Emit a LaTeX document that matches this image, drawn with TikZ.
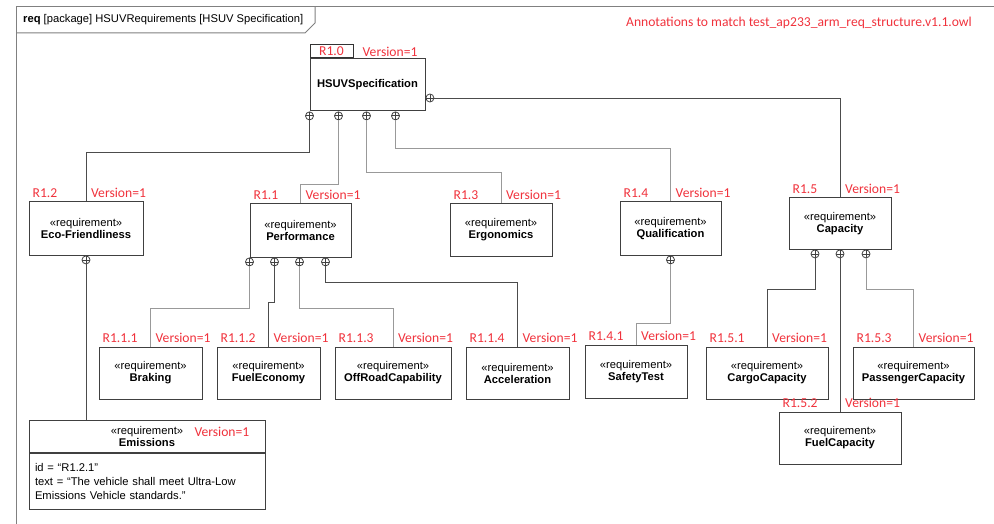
\documentclass[tikz,border=0pt]{standalone}
\usepackage{fontspec}
\setmainfont{Liberation Sans}
\newfontfamily\annotfont{Carlito}
\usetikzlibrary{positioning}
\definecolor{annotred}{RGB}{240,50,60}
\newcommand*{\stereo}{«requirement»}
% id and version tags above a requirement box
\newcommand*{\tags}[2]{%
  \node [tag_label, anchor=south west] (#1_id) at ([xshift=3pt, yshift=3pt]#1.north west) {#2};
  \node [tag_label, anchor=south west] (#1_ver) at ([xshift=4pt, yshift=3pt]#1.north) {Version=1};}

\begin{document}
\begin{tikzpicture}[x=1pt, y=-1pt,
    font=\fontsize{11.2}{12}\selectfont,
    req_box/.style ={rectangle, draw=black!75, line width=1pt, fill=white,
      align=center, minimum height=52pt, inner sep=2pt},
    tag_label/.style ={font=\annotfont\fontsize{13.6}{14}\selectfont, text=annotred, inner sep=1pt},
    plus_port/.style ={circle, draw=black!75, line width=0.8pt, fill=white, inner sep=0pt,
      minimum size=8pt, path picture={\draw [black!75, line width=0.8pt]
        (path picture bounding box.north) -- (path picture bounding box.south)
        (path picture bounding box.west) -- (path picture bounding box.east);}},
    frame/.style ={draw=black!50, line width=1pt},
    line/.style ={draw, line width=0.9pt, black!70},
    line_light/.style ={draw, line width=0.9pt, black!40}]
    \useasboundingbox (0,0) rectangle (994,524);
    % diagram frame and its tab
    \draw [frame] (16,524) -- (16,7) -- (994,7);
    \draw [frame] (16,33) -- (305,33) -- (315,23) -- (315,7);
    \node [anchor=west, inner sep=0pt] (title) at (23,20)
      {\textbf{req} [package] HSUVRequirements [HSUV Specification]};
    \node [tag_label, anchor=east] (note) at (973,23)
      {Annotations to match test\_ap233\_arm\_req\_structure.v1.1.owl};
    % row 1
    \node [req_box, minimum width=115pt] (hsuv) at (367.5,85) {\textbf{HSUVSpecification}};
    \node [tag_label, rectangle, draw=black!80, line width=1pt, minimum width=43pt,
      minimum height=13pt, inner sep=0pt, anchor=south west] (hsuv_id) at (hsuv.north west) {R1.0};
    \node [tag_label, anchor=west] (hsuv_ver) at ([xshift=8pt]hsuv_id.east) {Version=1};
    \node [plus_port, anchor=north] (hsuv_p1) at (hsuv.south west) {};
    \node [plus_port, anchor=north] (hsuv_p2) at ([xshift=29pt]hsuv.south west) {};
    \node [plus_port, anchor=north] (hsuv_p3) at ([xshift=57pt]hsuv.south west) {};
    \node [plus_port, anchor=north] (hsuv_p4) at ([xshift=86pt]hsuv.south west) {};
    \node [plus_port, anchor=west] (hsuv_p5) at ([yshift=-13pt]hsuv.east) {};
    % row 2
    \node [req_box, minimum width=114pt, minimum height=53pt] (eco) at (86,228.5)
      {\stereo\\\textbf{Eco-Friendliness}};
    \tags{eco}{R1.2}
    \node [req_box, minimum width=101pt, minimum height=53pt] (perf) at (300.5,230.5)
      {\stereo\\\textbf{Performance}};
    \tags{perf}{R1.1}
    \node [req_box, minimum width=102pt] (ergo) at (501,230) {\stereo\\\textbf{Ergonomics}};
    \tags{ergo}{R1.3}
    \node [req_box, minimum width=101pt, minimum height=53pt] (qual) at (670.5,228.5)
      {\stereo\\\textbf{Qualification}};
    \tags{qual}{R1.4}
    \node [req_box, minimum width=102pt, minimum height=51pt] (cap) at (840,223.5)
      {\stereo\\\textbf{Capacity}};
    \tags{cap}{R1.5}
    \node [plus_port, anchor=north] (eco_p1) at (eco.south) {};
    \node [plus_port, anchor=north] (perf_p1) at (perf.south west) {};
    \node [plus_port, anchor=north] (perf_p2) at ([xshift=25pt]perf.south west) {};
    \node [plus_port, anchor=north] (perf_p3) at ([xshift=50pt]perf.south west) {};
    \node [plus_port, anchor=north] (perf_p4) at ([xshift=76pt]perf.south west) {};
    \node [plus_port, anchor=north] (qual_p1) at (qual.south) {};
    \node [plus_port, anchor=north] (cap_p1) at ([xshift=-25pt]cap.south) {};
    \node [plus_port, anchor=north] (cap_p2) at (cap.south) {};
    \node [plus_port, anchor=north] (cap_p3) at ([xshift=26pt]cap.south) {};
    % row 3
    \node [req_box, minimum width=103pt] (brake) at (150.5,373) {\stereo\\\textbf{Braking}};
    \tags{brake}{R1.1.1}
    \node [req_box, minimum width=103pt] (fueleco) at (268.5,373) {\stereo\\\textbf{FuelEconomy}};
    \tags{fueleco}{R1.1.2}
    \node [req_box, minimum width=116pt] (offroad) at (393,373) {\stereo\\\textbf{OffRoadCapability}};
    \tags{offroad}{R1.1.3}
    \node [req_box, minimum width=103pt] (accel) at (517.5,373) {\stereo\\\textbf{Acceleration}};
    \tags{accel}{R1.1.4}
    \node [req_box, minimum width=102pt, minimum height=53pt] (safety) at (636,371.5)
      {\stereo\\\textbf{SafetyTest}};
    \tags{safety}{R1.4.1}
    \node [req_box, minimum width=122pt] (cargo) at (767,373) {\stereo\\\textbf{CargoCapacity}};
    \tags{cargo}{R1.5.1}
    \node [req_box, minimum width=121pt] (pass) at (913.5,373) {\stereo\\\textbf{PassengerCapacity}};
    \tags{pass}{R1.5.3}
    % row 4
    \node [req_box, minimum width=122pt] (fuelcap) at (840,438) {\stereo\\\textbf{FuelCapacity}};
    \tags{fuelcap}{R1.5.2}
    \node [req_box, minimum width=236pt, minimum height=32pt] (emis) at (147,436)
      {\stereo\\\textbf{Emissions}};
    \node [tag_label, anchor=east] (emis_ver) at ([xshift=-15pt, yshift=4pt]emis.east) {Version=1};
    \node [req_box, minimum height=56pt, text width=224pt, inner xsep=6pt, align=left,
      anchor=north] (emis_body) at (emis.south)
      {id = “R1.2.1”\\[2pt]
       text = “The vehicle shall meet Ultra-Low\\[2pt]
       Emissions Vehicle standards.”};
    % containment links
    \begin{scope}[every path/.style=line]
      \path (hsuv_p1.south) -- (hsuv_p1.south |- 0,152) -| (eco.north);
      \path [line_light] (hsuv_p2.south) -- (hsuv_p2.south |- 0,184) -| (perf.north);
      \path [line_light] (hsuv_p3.south) -- (hsuv_p3.south |- 0,172) -| (ergo.north);
      \path [line_light] (hsuv_p4.south) -- (hsuv_p4.south |- 0,148) -| (qual.north);
      \path (hsuv_p5.east) -| (cap.north);
      \path (eco_p1.south) -- (emis.north -| eco_p1.south);
      \path [line_light] (perf_p1.south) -- (perf_p1.south |- 0,308) -| (brake.north);
      \path (perf_p2.south) -- (perf_p2.south |- 0,302) -| (fueleco.north);
      \path [line_light] (perf_p3.south) -- (perf_p3.south |- 0,308) -| (offroad.north);
      \path (perf_p4.south) -- (perf_p4.south |- 0,282) -| (accel.north);
      \path [line_light] (qual_p1.south) -- (qual_p1.south |- 0,323) -| (safety.north);
      \path (cap_p1.south) -- (cap_p1.south |- 0,289) -| (cargo.north);
      \path (cap_p2.south) -- (fuelcap.north);
      \path [line_light] (cap_p3.south) -- (cap_p3.south |- 0,289) -| (pass.north);
    \end{scope}
  \end{tikzpicture}
\end{document}
